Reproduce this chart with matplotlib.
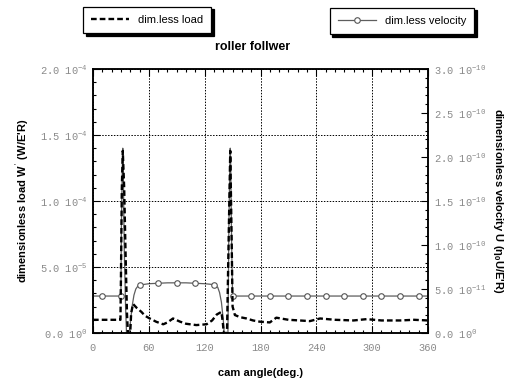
"""
Roller follower: dimensionless load and velocity vs cam angle
"""
import matplotlib
matplotlib.use("Agg")
import matplotlib.pyplot as plt
from matplotlib.ticker import FixedLocator, FixedFormatter, MultipleLocator

# load W' vs cam angle (deg)
load_deg = [0, 10, 20, 29.5, 30, 31, 32, 33.5, 35, 36.5, 37.5, 40, 41, 43, 47, 52, 56, 61,
            68, 75.5, 80, 86, 93.5, 100, 111, 122, 128, 133, 138, 139.5, 140.5, 144,
            145.5, 147.5, 149, 150, 152.5, 158, 165, 172, 179, 190, 197, 210, 222,
            233, 244, 260, 280, 294, 310, 330, 345, 360]
load_val = [10e-6, 10e-6, 10e-6, 10e-6, 40e-6, 110e-6, 138e-6, 110e-6, 60e-6, 15e-6, 0, 0,
            15e-6, 22e-6, 19e-6, 16e-6, 13e-6, 11e-6,
            8.5e-6, 6.6e-6, 8e-6, 11e-6, 8.6e-6, 7e-6, 6e-6, 6.6e-6, 9.5e-6, 14e-6, 16e-6,
            8e-6, 0, 0,
            60e-6, 138e-6, 70e-6, 20e-6, 13.6e-6, 12e-6, 11e-6, 9.5e-6, 8.6e-6, 8e-6,
            11.6e-6, 10e-6, 9.5e-6,
            9e-6, 11e-6, 10e-6, 9.5e-6, 10.5e-6, 9.5e-6, 9.5e-6, 10e-6, 9.5e-6]

# velocity U vs cam angle (deg)
vel_deg = [0, 10, 20, 30, 30.5, 31.5, 32, 32.5, 33.5, 35, 36, 39, 40, 42, 44, 46, 48,
           50, 60, 70, 80, 90, 100, 110, 120, 130, 134, 136, 138, 140, 141, 145,
           146, 147, 147.5, 148, 149, 150, 170, 190, 210, 230, 250, 270, 290, 310,
           330, 350, 360]
vel_val = [4.2e-11, 4.2e-11, 4.2e-11, 4.2e-11, 12e-11, 19e-11, 21e-11, 19e-11, 10e-11,
           3e-11, 0, 0, 1e-11, 3.0e-11, 4.3e-11, 5.0e-11, 5.3e-11,
           5.45e-11, 5.6e-11, 5.65e-11, 5.7e-11, 5.7e-11, 5.7e-11, 5.65e-11, 5.6e-11,
           5.5e-11, 5.2e-11, 4.6e-11, 3.5e-11, 1.5e-11, 0, 0,
           12e-11, 19e-11, 21e-11, 19e-11, 10e-11, 4.2e-11, 4.2e-11, 4.2e-11, 4.2e-11,
           4.2e-11, 4.2e-11, 4.2e-11, 4.2e-11, 4.2e-11,
           4.2e-11, 4.2e-11, 4.2e-11]
vel_marks = [10, 30, 50, 70, 90, 110, 130, 150, 170, 190, 210, 230, 250, 270, 290,
             310, 330, 350]

x_ticks = [0, 60, 120, 180, 240, 300, 360]
load_ticks = [0, 5e-5, 1e-4, 1.5e-4, 2e-4]
load_labels = ["0.0 10$^{\\mathregular{0}}$", "5.0 10$^{\\mathregular{-5}}$",
               "1.0 10$^{\\mathregular{-4}}$", "1.5 10$^{\\mathregular{-4}}$",
               "2.0 10$^{\\mathregular{-4}}$"]
vel_ticks = [0, 5e-11, 1e-10, 1.5e-10, 2e-10, 2.5e-10, 3e-10]
vel_labels = ["0.0 10$^{\\mathregular{0}}$", "5.0 10$^{\\mathregular{-11}}$",
              "1.0 10$^{\\mathregular{-10}}$", "1.5 10$^{\\mathregular{-10}}$",
              "2.0 10$^{\\mathregular{-10}}$", "2.5 10$^{\\mathregular{-10}}$",
              "3.0 10$^{\\mathregular{-10}}$"]

mono = "Liberation Mono"
plt.rcParams["font.family"] = ["Liberation Sans", "DejaVu Sans"]
plt.rcParams["mathtext.fontset"] = "custom"
plt.rcParams["mathtext.rm"] = mono
tick_grey = "#8a8a8a"

fig = plt.figure(figsize=(5.07, 3.78), dpi=100)
ax = fig.add_axes([93 / 507, 1 - 333 / 378, 335 / 507, 264 / 378])
ax2 = ax.twinx()

l1, = ax.plot(load_deg, load_val, color="black", lw=1.7, ls=(0, (2.4, 1.3)),
              label="dim.less load", zorder=3)
mark_idx = [i for i, a in enumerate(vel_deg) if a in vel_marks]
l2, = ax2.plot(vel_deg, vel_val, color="#5e5e5e", lw=0.9, marker="o", ms=4,
               mfc="white", mec="#555555", mew=0.8, markevery=mark_idx,
               label="dim.less velocity")
ax2.set_zorder(ax.get_zorder() - 1)
ax.patch.set_visible(False)

ax.set_xlim(0, 360)
ax.set_ylim(0, 2e-4)
ax2.set_ylim(0, 3e-10)

ax.xaxis.set_major_locator(FixedLocator(x_ticks))
ax.xaxis.set_minor_locator(MultipleLocator(10))
ax.yaxis.set_major_locator(FixedLocator(load_ticks))
ax.yaxis.set_major_formatter(FixedFormatter(load_labels))
ax.yaxis.set_minor_locator(MultipleLocator(1e-5))
ax2.yaxis.set_major_locator(FixedLocator(vel_ticks))
ax2.yaxis.set_major_formatter(FixedFormatter(vel_labels))
ax2.yaxis.set_minor_locator(MultipleLocator(1e-11))

ax.grid(True, which="major", color="black", ls=(0, (1.5, 1.5)), lw=0.7)

for a in (ax, ax2):
    a.tick_params(which="both", direction="in", top=True, labelsize=7.5,
                  labelcolor=tick_grey, width=0.8)
    a.tick_params(which="major", length=5)
    a.tick_params(which="minor", length=2.5)
    for lab in a.get_xticklabels() + a.get_yticklabels():
        lab.set_family(mono)
    for s in a.spines.values():
        s.set_linewidth(1.1)
ax.tick_params(axis="x", pad=7)
ax.tick_params(axis="y", pad=4)
ax2.tick_params(axis="y", pad=4)

ax.set_xlabel("cam angle(deg.)", fontsize=8, fontweight="bold", labelpad=11)
ax.set_ylabel("dimensionless load W$^{'}$ (W/E'R)", fontsize=8, fontweight="bold",
              labelpad=6)
ax2.set_ylabel("dimensionless velocity U (\u03b7$_{\\mathregular{0}}$U/E'R)", fontsize=8,
               fontweight="bold", rotation=270, labelpad=14)

fig.text(253 / 507, 1 - 47 / 378, "roller follwer", ha="center", va="center",
         fontsize=9, fontweight="bold")

leg_kw = dict(frameon=True, fancybox=False, fontsize=8, handlelength=3.4,
              borderpad=0.75, borderaxespad=0,
              shadow={"color": "black", "alpha": 1, "ox": 2, "oy": -2})
lg1 = fig.legend(handles=[l1], loc="center", bbox_to_anchor=(147 / 507, 1 - 20 / 378),
                 **leg_kw)
lg2 = fig.legend(handles=[l2], loc="center", bbox_to_anchor=(402 / 507, 1 - 21 / 378),
                 **leg_kw)
for lg in (lg1, lg2):
    lg.get_frame().set_edgecolor("black")
    lg.get_frame().set_linewidth(0.9)

fig.savefig("out.png", dpi=100)
